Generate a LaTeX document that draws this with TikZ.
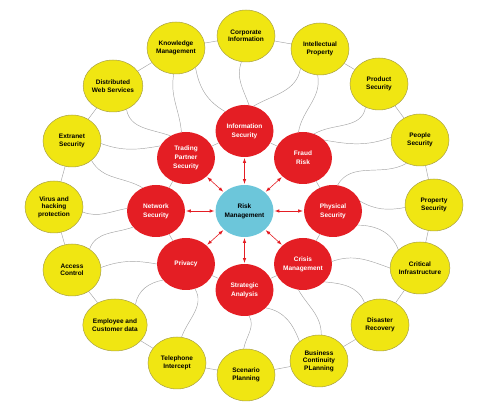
\documentclass[tikz,border=0pt]{standalone}
\usepackage{fontspec}
\setmainfont{Liberation Sans}
\usetikzlibrary{shapes.geometric}
\pgfdeclarelayer{edgelayer}
\pgfsetlayers{edgelayer,main}
\tikzset{>=latex}
\definecolor{riskred}{RGB}{228,30,36}
\definecolor{riskyellow}{RGB}{240,230,18}
\definecolor{riskcyan}{RGB}{108,198,218}
\definecolor{itemrim}{RGB}{168,160,70}
\definecolor{linkgrey}{RGB}{165,165,165}
\tikzset{
  riskcore/.style={ellipse, fill=riskcyan, minimum width=58pt, minimum height=52pt,
    inner sep=0pt, align=center, font=\fontsize{6.5}{9}\selectfont\bfseries},
  riskarea/.style={ellipse, fill=riskred, text=white, minimum width=58pt, minimum height=52pt,
    inner sep=0pt, align=center, font=\fontsize{6.5}{9}\selectfont\bfseries},
  riskitem/.style={ellipse, fill=riskyellow, draw=itemrim, line width=0.5pt,
    minimum width=58pt, minimum height=52pt, inner sep=0pt, align=center,
    font=\fontsize{6.5}{7.5}\selectfont\bfseries},
  greyline/.style={draw=linkgrey, line width=0.45pt},
  twoway/.style={<->, draw=riskred, line width=0.6pt, shorten >=1pt, shorten <=1pt}
}
\begin{document}
\begin{tikzpicture}[x=1pt, y=1pt]
  \useasboundingbox (0,0) rectangle (491,406);

  % Nodes
  \node[riskcore] (rm)     at (244.5,195) {Risk\\Management};

  \node[riskarea] (info)   at (244.5,275) {Information\\Security};
  \node[riskarea] (fraud)  at (303,248)   {Fraud\\Risk};
  \node[riskarea] (phys)   at (333,195)   {Physical\\Security};
  \node[riskarea] (crisis) at (303,142)   {Crisis\\Management};
  \node[riskarea] (strat)  at (244.5,116) {Strategic\\Analysis};
  \node[riskarea] (priv)   at (186,142)   {Privacy};
  \node[riskarea] (net)    at (156,195)   {Network\\Security};
  \node[riskarea] (trade)  at (186,248)   {Trading\\Partner\\Security};

  \node[riskitem] (corp)   at (246,370) {Corporate\\Information};
  \node[riskitem] (intel)  at (320,357) {Intellectual\\Property};
  \node[riskitem] (prod)   at (379,322) {Product\\Security};
  \node[riskitem] (people) at (420,266) {People\\Security};
  \node[riskitem] (prop)   at (434,201) {Property\\Security};
  \node[riskitem] (crit)   at (420,138) {Critical\\Infrastructure};
  \node[riskitem] (dis)    at (380,81)  {Disaster\\Recovery};
  \node[riskitem] (bcp)    at (319,45)  {Business\\Continuity\\PLanning};
  \node[riskitem] (scen)   at (246,31)  {Scenario\\Planning};
  \node[riskitem] (tel)    at (177,43)  {Telephone\\Intercept};
  \node[riskitem] (emp)    at (115,81)  {Employee and\\Customer data};
  \node[riskitem] (acc)    at (72,136)  {Access\\Control};
  \node[riskitem] (virus)  at (54,199)  {Virus and\\hacking\\protection};
  \node[riskitem] (extra)  at (72,265)  {Extranet\\Security};
  \node[riskitem] (dist)   at (113,320) {Distributed\\Web Services};
  \node[riskitem] (know)   at (176,358) {Knowledge\\Management};

  % Arrows
  \foreach \a in {info,fraud,phys,crisis,strat,priv,net,trade}
    \draw[twoway] (rm) -- (\a);

  % Edges
  \begin{pgfonlayer}{edgelayer}
    \foreach \a/\b in {corp/intel,intel/prod,prod/people,people/prop,prop/crit,
        crit/dis,dis/bcp,bcp/scen,scen/tel,tel/emp,emp/acc,acc/virus,
        virus/extra,extra/dist,dist/know,know/corp,
        info/fraud,fraud/phys,phys/crisis,crisis/strat,strat/priv,
        priv/net,net/trade,trade/info}
      \draw[greyline] (\a) -- (\b);

    \draw[greyline] (know.-45)   to[out=-80,in=150] (info.135);
    \draw[greyline] (know.-95)   to[out=-100,in=95] (trade.100);
    \draw[greyline] (dist.-60)   to[out=-80,in=160] (trade.125);
    \draw[greyline] (extra.-5)   to[out=-20,in=190] (trade.155);
    \draw[greyline] (extra.-45)  to[out=-60,in=150] (net.120);
    \draw[greyline] (virus.-10)  to[out=-20,in=190] (net.175);
    \draw[greyline] (acc.50)     to[out=70,in=200]  (net.215);
    \draw[greyline] (acc.5)      to[out=20,in=170]  (priv.180);
    \draw[greyline] (emp.45)     to[out=80,in=190]  (priv.215);
    \draw[greyline] (priv.-70)   to[out=-60,in=70]  (tel.80);
    \draw[greyline] (strat.-80)  to[out=-60,in=80]  (scen.95);
    \draw[greyline] (strat.-40)  to[out=-10,in=110] (bcp.135);
    \draw[greyline] (crisis.-100) to[out=-60,in=90] (bcp.85);
    \draw[greyline] (crisis.-40) to[out=-5,in=110]  (dis.125);
    \draw[greyline] (crisis.5)   to[out=20,in=160]  (crit.180);
    \draw[greyline] (phys.-30)   to[out=0,in=110]   (crit.140);
    \draw[greyline] (phys.20)    to[out=-30,in=190] (prop.185);
    \draw[greyline] (people.-120) to[out=-150,in=60] (phys.80);
    \draw[greyline] (people.175) to[out=200,in=-10] (fraud.40);
    \draw[greyline] (prod.-120)  to[out=-100,in=30] (fraud.65);
    \draw[greyline] (intel.-95)  to[out=-80,in=80]  (fraud.100);
    \draw[greyline] (intel.-135) to[out=-100,in=30] (info.70);
    \draw[greyline] (corp.-100)  to[out=-110,in=110] (info.80);
  \end{pgfonlayer}

\end{tikzpicture}
\end{document}
